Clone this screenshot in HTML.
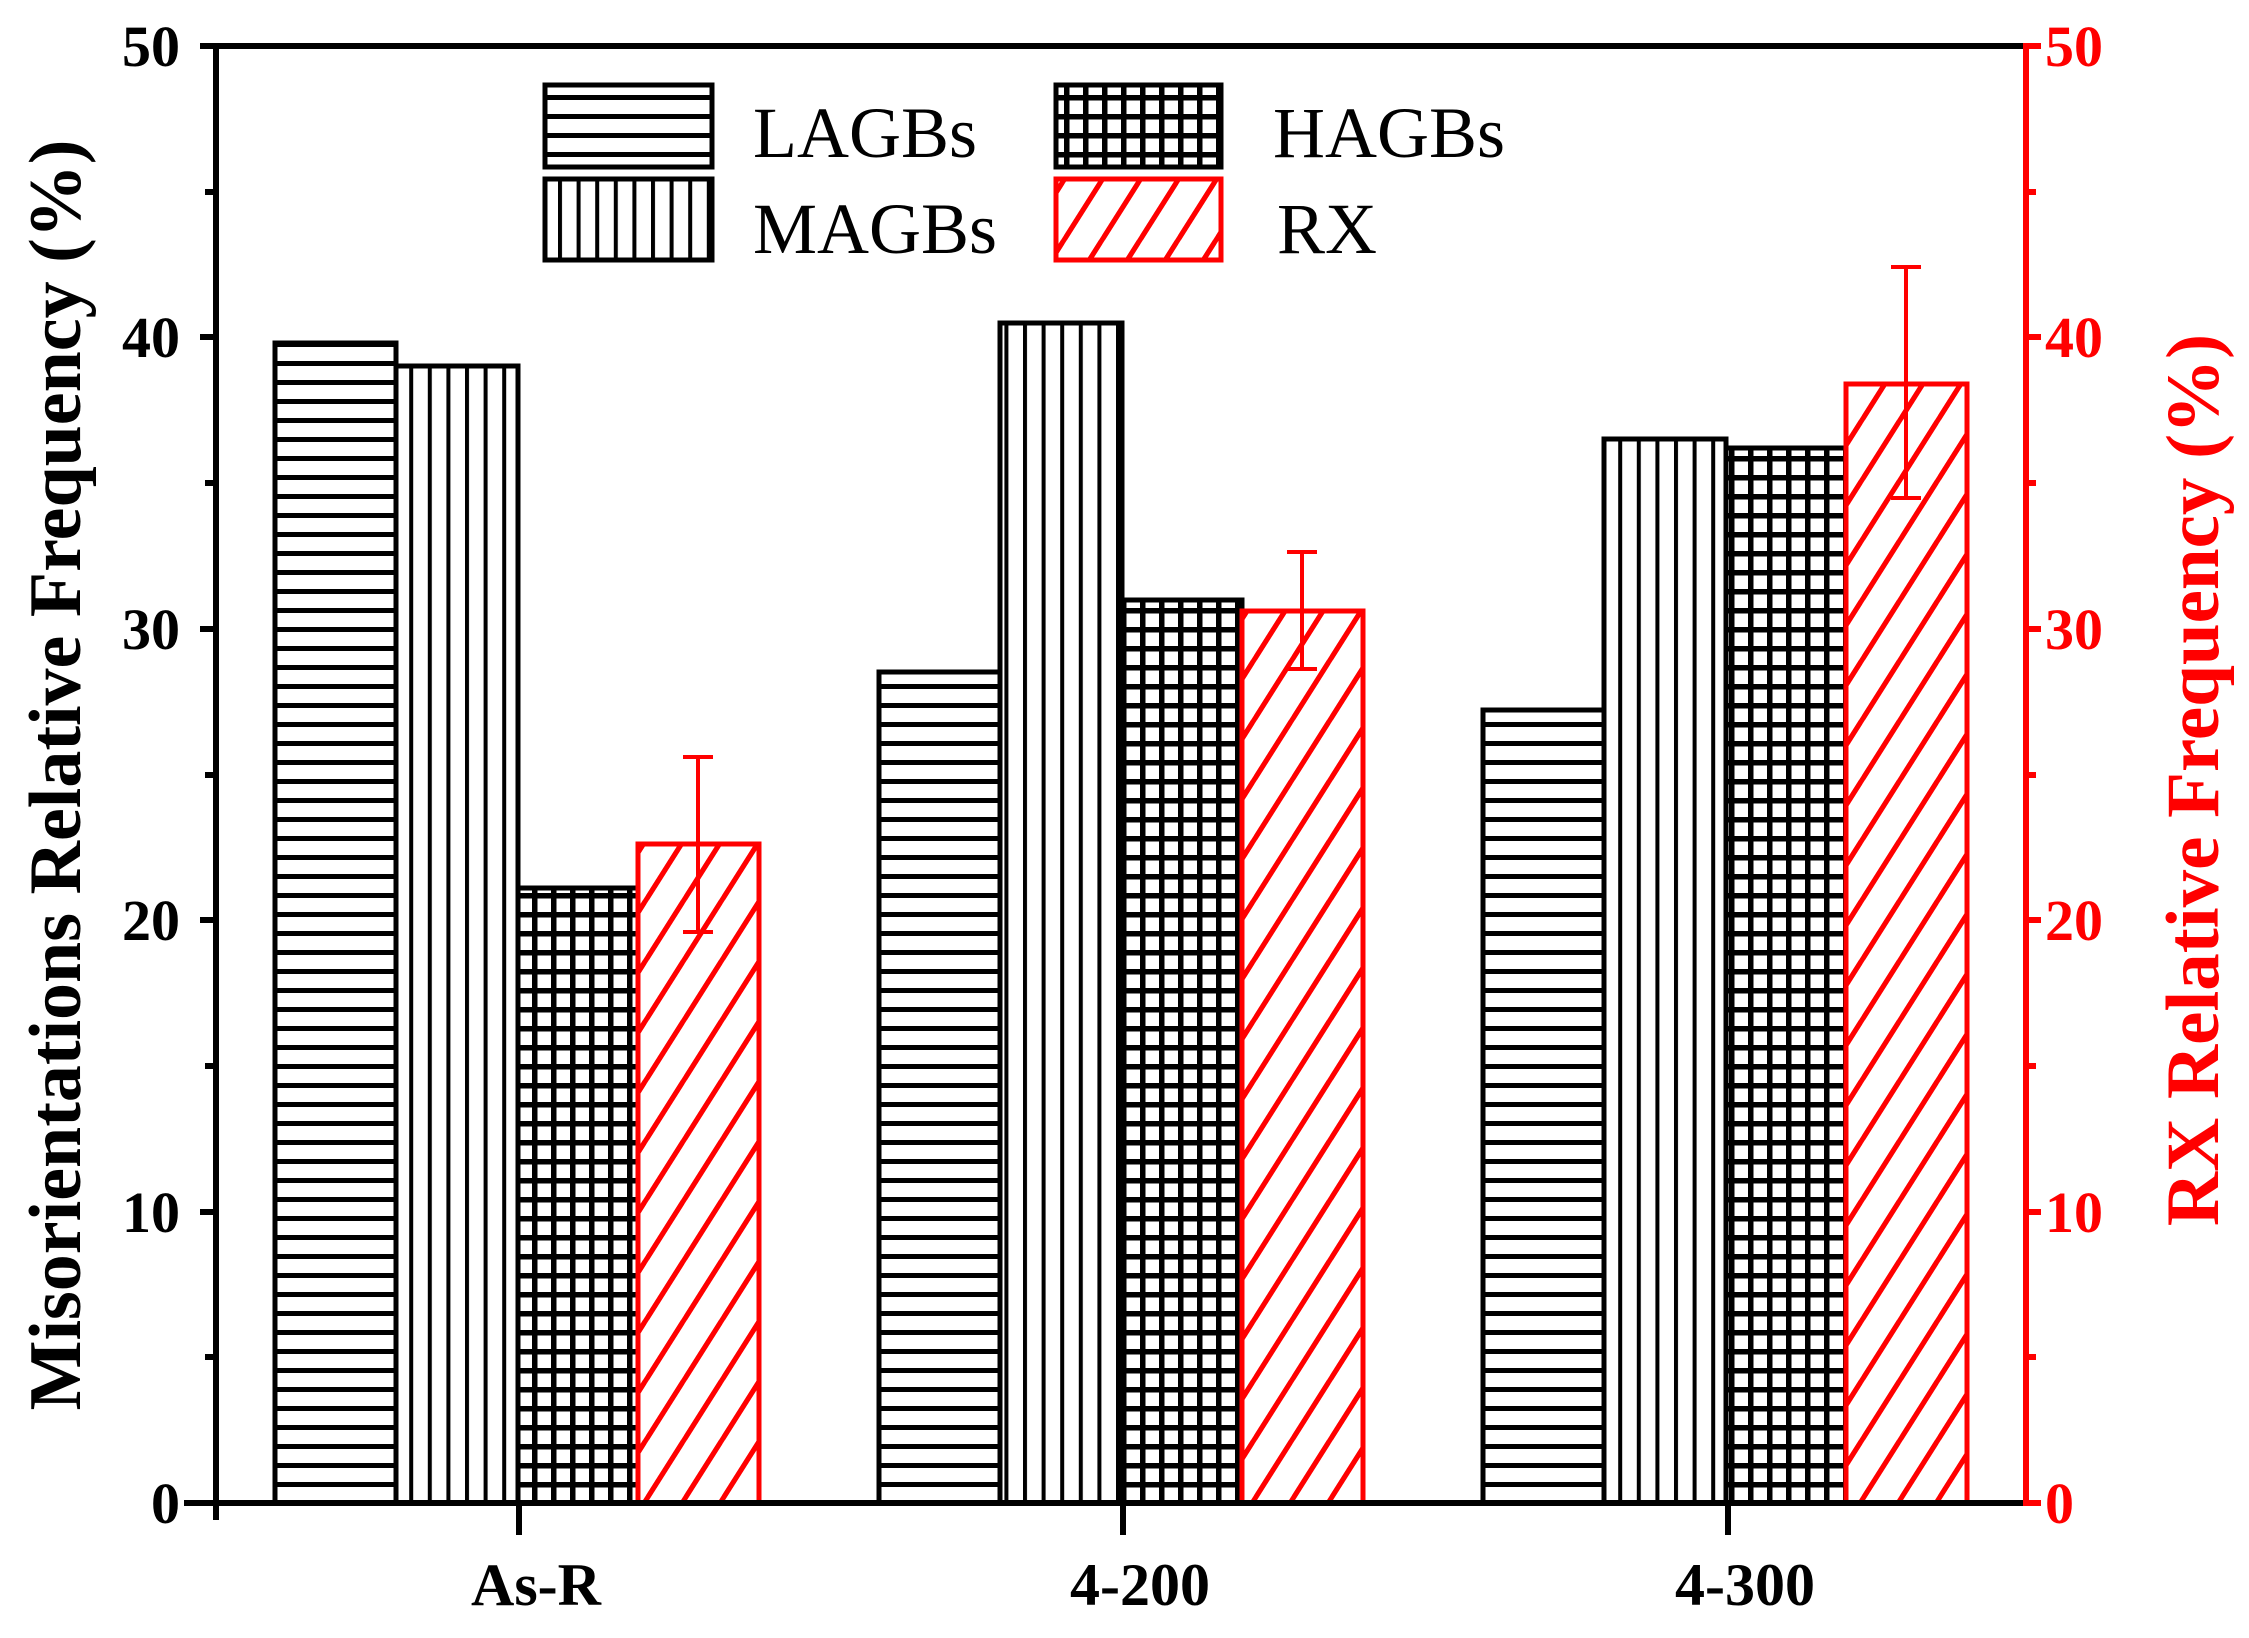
<!DOCTYPE html>
<html><head><meta charset="utf-8"><style>html,body{margin:0;padding:0;background:#fff}svg{display:block}</style></head>
<body>
<svg width="2249" height="1638" viewBox="0 0 2249 1638" xmlns="http://www.w3.org/2000/svg" font-family="Liberation Serif, serif">
<defs>
<pattern id="hz" patternUnits="userSpaceOnUse" width="20" height="19"><rect width="20" height="19" fill="#fff"/><rect y="0" width="20" height="5" fill="#000"/></pattern>
<pattern id="vt" patternUnits="userSpaceOnUse" width="18.6" height="20"><rect width="18.6" height="20" fill="#fff"/><rect x="0" width="4" height="20" fill="#000"/></pattern>
<pattern id="gr" patternUnits="userSpaceOnUse" width="19" height="19"><rect width="19" height="19" fill="#fff"/><rect width="19" height="5.5" fill="#000"/><rect width="5.5" height="19" fill="#000"/></pattern>
<pattern id="dg" patternUnits="userSpaceOnUse" width="38" height="60"><rect width="38" height="60" fill="#fff"/><line x1="-38" y1="60" x2="38" y2="-60" stroke="#f00" stroke-width="5"/><line x1="0" y1="60" x2="76" y2="-60" stroke="#f00" stroke-width="5"/><line x1="-38" y1="120" x2="38" y2="0" stroke="#f00" stroke-width="5"/><line x1="0" y1="120" x2="76" y2="0" stroke="#f00" stroke-width="5"/></pattern>
</defs>

<g stroke-width="5">
<rect x="275" y="343" width="121" height="1160" fill="url(#hz)" stroke="#000"/>
<rect x="396" y="366" width="122" height="1137" fill="url(#vt)" stroke="#000"/>
<rect x="518" y="888" width="120" height="615" fill="url(#gr)" stroke="#000"/>
<rect x="638" y="844" width="121" height="659" fill="url(#dg)" stroke="#f00"/>

<rect x="879" y="672" width="121" height="831" fill="url(#hz)" stroke="#000"/>
<rect x="1000" y="323" width="122" height="1180" fill="url(#vt)" stroke="#000"/>
<rect x="1122" y="600" width="120" height="903" fill="url(#gr)" stroke="#000"/>
<rect x="1242" y="611" width="121" height="892" fill="url(#dg)" stroke="#f00"/>

<rect x="1483" y="710" width="121" height="793" fill="url(#hz)" stroke="#000"/>
<rect x="1604" y="439" width="122" height="1064" fill="url(#vt)" stroke="#000"/>
<rect x="1726" y="448" width="120" height="1055" fill="url(#gr)" stroke="#000"/>
<rect x="1846" y="384" width="121" height="1119" fill="url(#dg)" stroke="#f00"/>
</g>
<g stroke="#f00" stroke-width="4" fill="none">
<path d="M698 932V757M683 757H713M683 932H713"/>
<path d="M1302 669V552M1287 552H1317M1287 669H1317"/>
<path d="M1906 498V267M1891 267H1921M1891 498H1921"/>
</g>

<g stroke="#000" stroke-width="6" fill="none">
<path d="M215 46H2026"/>
<path d="M216 43V1520"/>
<path d="M184 1503H2026"/>
<path d="M200 46H215M200 337H215M200 629H215M200 920H215M200 1212H215"/>
<path d="M205 192H215M205 483H215M205 775H215M205 1066H215M205 1357H215"/>
<path d="M519 1503V1535M1123 1503V1535M1728 1503V1535"/>
</g>
<g stroke="#f00" stroke-width="6" fill="none">
<path d="M2026 43V1506"/>
<path d="M2026 46H2041M2026 337H2041M2026 629H2041M2026 920H2041M2026 1212H2041M2026 1503H2041"/>
<path d="M2026 192H2036M2026 483H2036M2026 775H2036M2026 1066H2036M2026 1357H2036"/>
</g>

<g font-size="58" font-weight="bold" text-anchor="end" fill="#000">
<text x="180" y="66">50</text><text x="180" y="357">40</text><text x="180" y="649">30</text>
<text x="180" y="940">20</text><text x="180" y="1232">10</text><text x="180" y="1523">0</text>
</g>
<g font-size="58" font-weight="bold" fill="#f00">
<text x="2045" y="66">50</text><text x="2045" y="357">40</text><text x="2045" y="649">30</text>
<text x="2045" y="940">20</text><text x="2045" y="1232">10</text><text x="2045" y="1523">0</text>
</g>
<g font-size="60" font-weight="bold" text-anchor="middle">
<text x="536" y="1605">As-R</text><text x="1140" y="1605">4-200</text><text x="1745" y="1605">4-300</text>
</g>

<text transform="translate(80,775) rotate(-90)" text-anchor="middle" font-size="74" font-weight="bold">Misorientations Relative Frequency (%)</text>
<text transform="translate(2218,780) rotate(-90)" text-anchor="middle" font-size="75" font-weight="bold" fill="#f00">RX Relative Frequency (%)</text>

<g stroke-width="5">
<rect x="545" y="85" width="167" height="82" fill="url(#hz)" stroke="#000"/>
<rect x="545" y="179" width="167" height="81" fill="url(#vt)" stroke="#000"/>
<rect x="1056" y="85" width="165" height="82" fill="url(#gr)" stroke="#000"/>
<rect x="1056" y="179" width="165" height="81" fill="url(#dg)" stroke="#f00"/>
</g>
<g font-size="72">
<text x="753" y="157">LAGBs</text><text x="753" y="253">MAGBs</text>
<text x="1273" y="157">HAGBs</text><text x="1277" y="253">RX</text>
</g>
</svg>
</body></html>
